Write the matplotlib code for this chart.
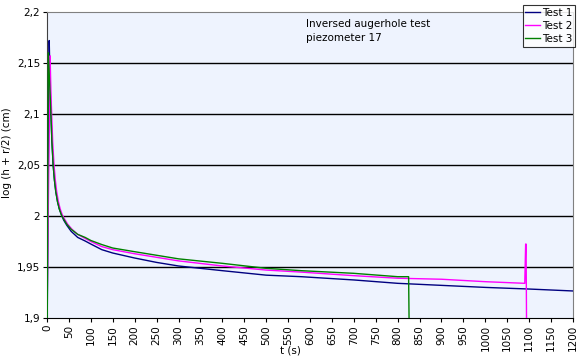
import matplotlib
matplotlib.use('Agg')
import matplotlib.pyplot as plt
from matplotlib.ticker import FuncFormatter

# values
t1 = [0, 0.5, 5, 7, 9, 11, 14, 17, 20, 24, 28, 33, 38, 45, 55, 70, 87, 100, 125, 150, 200, 250, 300, 400, 500, 580, 700, 800, 900, 1000, 1100, 1200]
v1 = [1.90, 1.90, 2.172, 2.13, 2.10, 2.075, 2.05, 2.035, 2.024, 2.014, 2.007, 2.001, 1.996, 1.991, 1.985, 1.979, 1.9755, 1.9725, 1.967, 1.9637, 1.9588, 1.9545, 1.951, 1.9464, 1.942, 1.9405, 1.9373, 1.934, 1.932, 1.930, 1.9284, 1.9265]

t2 = [0, 0.5, 7, 9, 11, 13, 16, 19, 22, 26, 30, 35, 40, 47, 57, 70, 87, 100, 125, 150, 200, 250, 300, 400, 500, 580, 700, 800, 900, 1000, 1090, 1092, 1093, 1094]
v2 = [1.92, 1.92, 2.157, 2.12, 2.095, 2.072, 2.05, 2.035, 2.024, 2.014, 2.007, 2.001, 1.997, 1.992, 1.987, 1.982, 1.978, 1.975, 1.970, 1.967, 1.963, 1.9595, 1.956, 1.951, 1.947, 1.945, 1.9415, 1.939, 1.938, 1.9356, 1.934, 1.9725, 1.9725, 1.90]

t3 = [0, 0.5, 3, 6, 9, 11, 14, 17, 20, 24, 28, 33, 38, 45, 55, 70, 87, 100, 125, 150, 200, 250, 300, 400, 500, 580, 700, 800, 825, 826]
v3 = [1.90, 1.90, 2.160, 2.13, 2.10, 2.075, 2.05, 2.035, 2.024, 2.014, 2.007, 2.001, 1.997, 1.992, 1.987, 1.982, 1.979, 1.976, 1.972, 1.9686, 1.965, 1.9615, 1.958, 1.9536, 1.9487, 1.9464, 1.9438, 1.9405, 1.9405, 1.90]

xticks = list(range(0, 1201, 50))
yticks = [1.9, 1.95, 2.0, 2.05, 2.1, 2.15, 2.2]

fig = plt.figure(figsize=(5.79, 3.61), dpi=100)
ax = fig.add_axes([0.0812, 0.1191, 0.9084, 0.8477])
ax.set_facecolor('#eef3fe')

for y in yticks[1:-1]:
    ax.axhline(y, color='black', lw=1.0, zorder=1)

ax.plot(t1, v1, color='#000080', lw=1.0, label='Test 1', zorder=3)
ax.plot(t2, v2, color='#ff00ff', lw=1.0, label='Test 2', zorder=3)
ax.plot(t3, v3, color='#008000', lw=1.0, label='Test 3', zorder=4)

ax.set_xlim(0, 1200)
ax.set_ylim(1.9, 2.2)
ax.set_xticks(xticks)
ax.set_yticks(yticks)
ax.set_xticklabels([str(x) for x in xticks], rotation=90, fontsize=7.5)
ax.yaxis.set_major_formatter(FuncFormatter(lambda v, p: ('%g' % round(v, 2)).replace('.', ',')))
ax.tick_params(axis='y', labelsize=7.5, length=3, pad=2)
ax.tick_params(axis='x', length=3, pad=2)

for s in ['top', 'right']:
    ax.spines[s].set_color('#808080')
ax.spines['left'].set_color('#404040')
ax.spines['bottom'].set_color('black')

ax.set_xlabel('t (s)', fontsize=7.5)
ax.xaxis.set_label_coords(0.462, -0.09)
ax.set_ylabel('log (h + r/2) (cm)', fontsize=7.5)
ax.yaxis.set_label_coords(-0.066, 0.54)

ax.text(590, 2.193, 'Inversed augerhole test\npiezometer 17', fontsize=7.5, va='top', ha='left', linespacing=1.5)

leg = ax.legend(loc='upper right', bbox_to_anchor=(0.993, 0.986), bbox_transform=fig.transFigure,
                fontsize=7.5, frameon=True, fancybox=False, handlelength=1.4, handletextpad=0.2,
                borderpad=0.25, labelspacing=0.3, borderaxespad=0)
leg.get_frame().set_edgecolor('black')
leg.get_frame().set_linewidth(0.8)

plt.savefig('out.png', dpi=100)
